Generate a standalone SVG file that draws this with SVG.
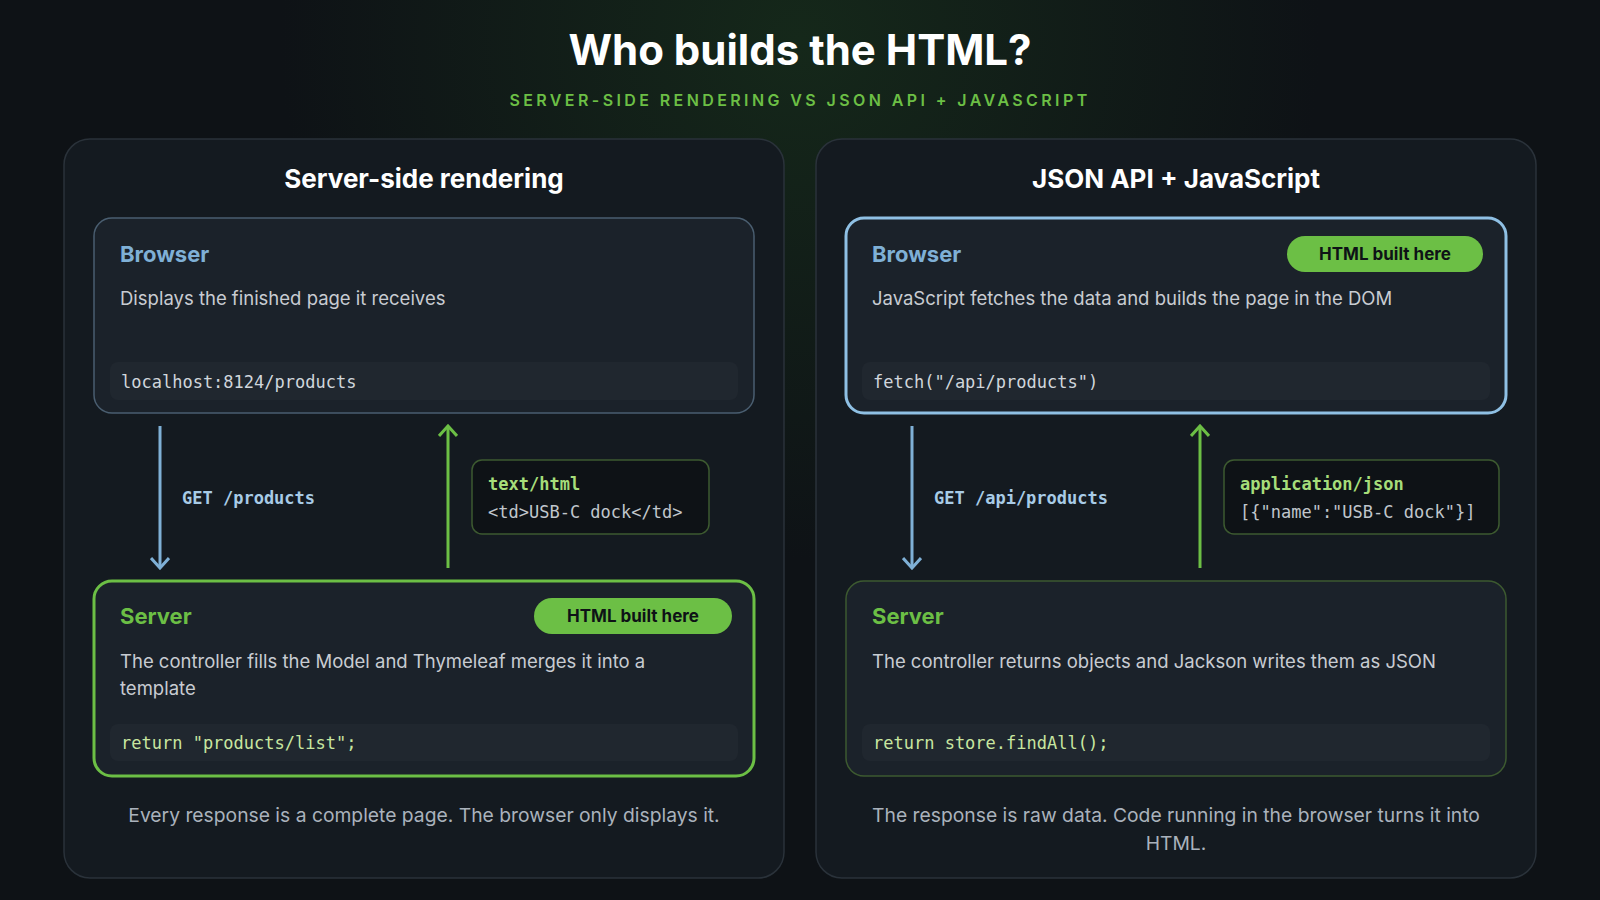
<svg xmlns="http://www.w3.org/2000/svg" width="1600" height="900" viewBox="0 0 1600 900">
<defs>
<radialGradient id="glow" cx="800" cy="40" r="520" gradientUnits="userSpaceOnUse">
<stop offset="0" stop-color="#15281a"/><stop offset="1" stop-color="#0e1216"/>
</radialGradient>
<marker id="ab" viewBox="0 0 20 20" refX="18" refY="10" markerWidth="20" markerHeight="20" markerUnits="userSpaceOnUse" orient="auto">
<path d="M8 1 L18 10 L8 19" fill="none" stroke="#7fb0d6" stroke-width="3"/></marker>
<marker id="ag" viewBox="0 0 20 20" refX="18" refY="10" markerWidth="20" markerHeight="20" markerUnits="userSpaceOnUse" orient="auto">
<path d="M8 1 L18 10 L8 19" fill="none" stroke="#6cbf45" stroke-width="3"/></marker>
</defs>
<style>
text{font-family:Inter,"Liberation Sans",Arial,sans-serif}
.mono{font-family:"DejaVu Sans Mono","Liberation Mono",monospace}
.panel{fill:#141a20;stroke:#2a323a;stroke-width:1.5}
.box{fill:#1b222a}
.strip{fill:#20272f}
.h{font-size:22px;font-weight:700}
.d{font-size:18.5px;fill:#c8ccd2}
.c{font-size:17px;fill:#d0d6dc}
.pill{fill:#6cbf45}
.pt{font-size:17px;font-weight:700;fill:#0e1216}
.resp{fill:#0e1216;stroke:#3d5a30;stroke-width:1.5}
.foot{font-size:19.3px;fill:#aab2bc}
</style>
<rect width="1600" height="900" fill="url(#glow)"/>
<text x="800" y="65" text-anchor="middle" font-size="42" font-weight="700" fill="#ffffff">Who builds the HTML?</text>
<text x="800" y="106" text-anchor="middle" font-size="16" font-weight="600" fill="#6cbf45" letter-spacing="3.4">SERVER-SIDE RENDERING VS JSON API + JAVASCRIPT</text>

<g id="panel-left">
<rect class="panel" x="64" y="139" width="720" height="739" rx="26"/>
<text x="424" y="188" text-anchor="middle" font-size="26" font-weight="700" fill="#fff">Server-side rendering</text>
</g>
<g id="panel-right">
<rect class="panel" x="816" y="139" width="720" height="739" rx="26"/>
<text x="1176" y="188" text-anchor="middle" font-size="26" font-weight="700" fill="#fff">JSON API + JavaScript</text>
</g>

<g id="ssr-browser">
<rect class="box" x="94" y="218" width="660" height="195" rx="18" style="stroke:#4a5e70;stroke-width:1.5"/>
<text class="h" x="120" y="262" fill="#7fb0d6">Browser</text>
<text class="d" x="120" y="305">Displays the finished page it receives</text>
<rect class="strip" x="110" y="362" width="628" height="38" rx="8"/>
<text class="c mono" x="121" y="388">localhost:8124/products</text>
</g>
<g id="ssr-server">
<rect class="box" x="94" y="581" width="660" height="195" rx="18" style="stroke:#6cbf45;stroke-width:3"/>
<text class="h" x="120" y="624" fill="#6cbf45">Server</text>
<rect class="pill" x="534" y="598" width="198" height="36" rx="18"/>
<text class="pt" x="633" y="622" text-anchor="middle">HTML built here</text>
<text class="d" x="120" y="668">The controller fills the Model and Thymeleaf merges it into a</text>
<text class="d" x="120" y="695">template</text>
<rect class="strip" x="110" y="724" width="628" height="37" rx="8"/>
<text class="c mono" x="121" y="749" style="fill:#c8e6a0">return "products/list";</text>
<text class="foot" x="424" y="822" text-anchor="middle">Every response is a complete page. The browser only displays it.</text>
</g>
<g id="ssr-response">
<rect class="resp" x="472" y="460" width="237" height="74" rx="10"/>
<text class="mono" x="488" y="490" font-size="17" font-weight="700" fill="#a6dd7a">text/html</text>
<text class="mono c" x="488" y="518" style="fill:#c0c6cc">&lt;td&gt;USB-C dock&lt;/td&gt;</text>
</g>

<g id="api-browser">
<rect class="box" x="846" y="218" width="660" height="195" rx="18" style="stroke:#8fc0e4;stroke-width:3"/>
<text class="h" x="872" y="262" fill="#7fb0d6">Browser</text>
<rect class="pill" x="1287" y="236" width="196" height="36" rx="18"/>
<text class="pt" x="1385" y="260" text-anchor="middle">HTML built here</text>
<text class="d" x="872" y="305">JavaScript fetches the data and builds the page in the DOM</text>
<rect class="strip" x="862" y="362" width="628" height="38" rx="8"/>
<text class="c mono" x="873" y="388">fetch("/api/products")</text>
</g>
<g id="api-server">
<rect class="box" x="846" y="581" width="660" height="195" rx="18" style="stroke:#3d5a30;stroke-width:1.5"/>
<text class="h" x="872" y="624" fill="#6cbf45">Server</text>
<text class="d" x="872" y="668">The controller returns objects and Jackson writes them as JSON</text>
<rect class="strip" x="862" y="724" width="628" height="37" rx="8"/>
<text class="c mono" x="873" y="749" style="fill:#c8e6a0">return store.findAll();</text>
<text class="foot" x="1176" y="822" text-anchor="middle">The response is raw data. Code running in the browser turns it into</text>
<text class="foot" x="1176" y="850" text-anchor="middle">HTML.</text>
</g>
<g id="api-response">
<rect class="resp" x="1224" y="460" width="275" height="74" rx="10"/>
<text class="mono" x="1240" y="490" font-size="17" font-weight="700" fill="#a6dd7a">application/json</text>
<text class="mono c" x="1240" y="518" style="fill:#c0c6cc">[{"name":"USB-C dock"}]</text>
</g>

<g id="connectors">
<line x1="160" y1="426" x2="160" y2="568" stroke="#7fb0d6" stroke-width="3" marker-end="url(#ab)"/>
<line x1="448" y1="568" x2="448" y2="426" stroke="#6cbf45" stroke-width="3" marker-end="url(#ag)"/>
<text class="mono" x="182" y="504" font-size="17" font-weight="700" fill="#a8cbe6">GET /products</text>
<line x1="912" y1="426" x2="912" y2="568" stroke="#7fb0d6" stroke-width="3" marker-end="url(#ab)"/>
<line x1="1200" y1="568" x2="1200" y2="426" stroke="#6cbf45" stroke-width="3" marker-end="url(#ag)"/>
<text class="mono" x="934" y="504" font-size="17" font-weight="700" fill="#a8cbe6">GET /api/products</text>
</g>
</svg>
